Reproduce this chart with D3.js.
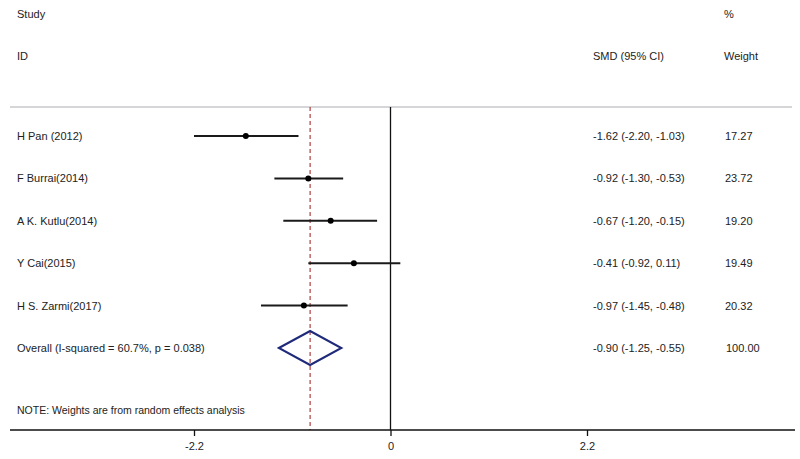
<!DOCTYPE html>
<html>
<head>
<meta charset="utf-8">
<script src="https://cdn.jsdelivr.net/npm/d3@7"></script>
<style>
  body { margin: 0; background: #fff; }
  text { font-family: "Liberation Sans", Arial, sans-serif; fill: #222; }
</style>
</head>
<body>
<div class="chart"></div>
<script>
var w = 800;
var h = 459;

// study data
var studies = ["H Pan (2012)", "F Burrai(2014)", "A K. Kutlu(2014)", "Y Cai(2015)", "H S. Zarmi(2017)"];
var smd = [-1.62, -0.92, -0.67, -0.41, -0.97];
var lower = [-2.20, -1.30, -1.20, -0.92, -1.45];
var upper = [-1.03, -0.53, -0.15, 0.11, -0.48];
var weights = ["17.27", "23.72", "19.20", "19.49", "20.32"];

var overallLabel = "Overall  (I-squared = 60.7%, p = 0.038)";
var overall = { est: -0.90, lo: -1.25, hi: -0.55, weight: "100.00" };

var ticks = [-2.2, 0, 2.2];

var x = d3.scaleLinear().domain([-2.2, 2.2]).range([194, 587]);
var y = d3.scaleLinear().domain([0, 5]).range([136, 348]);

var svg = d3.select(".chart")
    .append("svg")
    .attr("width", w)
    .attr("height", h);

// plain hyphen minus, like the original
function fmt(v) { return d3.format(".2f")(v).replace("\u2212", "-"); }

// header
svg.append("text").attr("x", 17).attr("y", 18).attr("font-size", "11px").text("Study");
svg.append("text").attr("x", 17).attr("y", 60).attr("font-size", "11px").text("ID");
svg.append("text").attr("x", 593).attr("y", 60).attr("font-size", "11px").text("SMD (95% CI)");
svg.append("text").attr("x", 724).attr("y", 18).attr("font-size", "11px").text("%");
svg.append("text").attr("x", 724).attr("y", 60).attr("font-size", "11px").text("Weight");

svg.append("line")
    .attr("x1", 10).attr("x2", 792)
    .attr("y1", 107).attr("y2", 107)
    .attr("stroke", "#c8c8cc").attr("stroke-width", 1.5);

// null line
svg.append("line")
    .attr("x1", x(0)).attr("x2", x(0))
    .attr("y1", 107).attr("y2", 430)
    .attr("stroke", "#111").attr("stroke-width", 1.3);

// overall dashed line
svg.append("line")
    .attr("x1", x(overall.est)).attr("x2", x(overall.est))
    .attr("y1", 107).attr("y2", 430)
    .attr("stroke", "#b04040").attr("stroke-width", 1.2)
    .attr("stroke-dasharray", "4,3");

var rows = studies.map(function(s, i) {
    return { name: s, est: smd[i], lo: lower[i], hi: upper[i], weight: weights[i] };
});

svg.selectAll(".ci")
    .data(rows)
    .enter()
    .append("line")
    .attr("class", "ci")
    .attr("x1", function(d) { return x(d.lo); })
    .attr("x2", function(d) { return x(d.hi); })
    .attr("y1", function(d, i) { return y(i); })
    .attr("y2", function(d, i) { return y(i); })
    .attr("stroke", "#1a1a1a").attr("stroke-width", 2);

svg.selectAll(".pt")
    .data(rows)
    .enter()
    .append("circle")
    .attr("class", "pt")
    .attr("cx", function(d) { return x(d.est); })
    .attr("cy", function(d, i) { return y(i); })
    .attr("r", 3)
    .attr("fill", "#000");

svg.selectAll(".name")
    .data(rows)
    .enter()
    .append("text")
    .attr("class", "name")
    .attr("x", 17)
    .attr("y", function(d, i) { return y(i) + 4; })
    .attr("font-size", "11px")
    .text(function(d) { return d.name; });

svg.selectAll(".est")
    .data(rows)
    .enter()
    .append("text")
    .attr("class", "est")
    .attr("x", 593)
    .attr("y", function(d, i) { return y(i) + 4; })
    .attr("font-size", "11px")
    .text(function(d) { return fmt(d.est) + " (" + fmt(d.lo) + ", " + fmt(d.hi) + ")"; });

svg.selectAll(".wt")
    .data(rows)
    .enter()
    .append("text")
    .attr("class", "wt")
    .attr("x", 725)
    .attr("y", function(d, i) { return y(i) + 4; })
    .attr("font-size", "11px")
    .text(function(d) { return d.weight; });

// overall diamond
var yo = y(5);
svg.append("polygon")
    .attr("points", [
        [x(overall.lo), yo], [x(overall.est), yo - 17],
        [x(overall.hi), yo], [x(overall.est), yo + 17]
    ].join(" "))
    .attr("fill", "none")
    .attr("stroke", "#1f2a7a").attr("stroke-width", 2);

svg.append("text").attr("x", 17).attr("y", yo + 4).attr("font-size", "11px").text(overallLabel);
svg.append("text").attr("x", 593).attr("y", yo + 4).attr("font-size", "11px")
    .text(fmt(overall.est) + " (" + fmt(overall.lo) + ", " + fmt(overall.hi) + ")");
svg.append("text").attr("x", 726).attr("y", yo + 4).attr("font-size", "11px").text(overall.weight);

svg.append("text").attr("x", 17).attr("y", 414).attr("font-size", "10.5px")
    .text("NOTE: Weights are from random effects analysis");

// axis
var axis = d3.axisBottom(x).tickValues(ticks).tickSize(6).tickPadding(6)
    .tickFormat(function(d) { return d === 0 ? "0" : d3.format(".1f")(d).replace("\u2212", "-"); });
var g = svg.append("g").attr("transform", "translate(0,430)").call(axis);
g.select(".domain").remove();
g.selectAll(".tick line").attr("stroke", "#111").attr("stroke-width", 1.3);
g.selectAll(".tick text").attr("font-size", "11px").attr("fill", "#222")
    .attr("font-family", "Liberation Sans, Arial, sans-serif");
svg.append("line")
    .attr("x1", 10).attr("x2", 795)
    .attr("y1", 430).attr("y2", 430)
    .attr("stroke", "#111").attr("stroke-width", 1.5);
</script>
</body>
</html>
